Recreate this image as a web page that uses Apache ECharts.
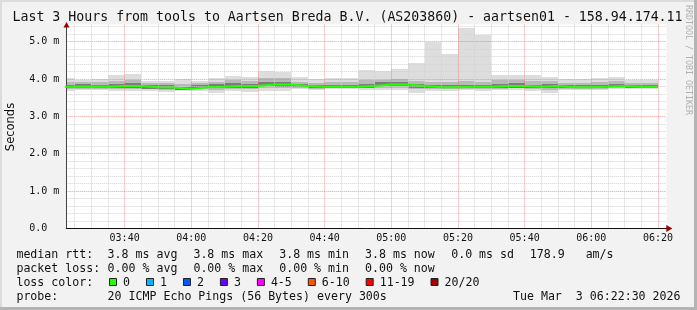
<!DOCTYPE html>
<html><head><meta charset="utf-8">
<script src="https://cdn.jsdelivr.net/npm/echarts@6/dist/echarts.min.js"></script>
<style>html,body{margin:0;padding:0;background:#f2f2f2}#c{width:697px;height:310px}</style>
</head><body><div id="c"></div>
<script>
// ---- data (RTT in ms, 5-minute slots, start time of each slot) ----
const slotStart = ['03:20','03:25','03:30','03:35','03:40','03:45','03:50','03:55','04:00','04:05','04:10','04:15',
  '04:20','04:25','04:30','04:35','04:40','04:45','04:50','04:55','05:00','05:05','05:10','05:15',
  '05:20','05:25','05:30','05:35','05:40','05:45','05:50','05:55','06:00','06:05','06:10','06:15'];
const maxRtt = [4.03,3.96,4.01,4.10,4.13,3.95,3.95,4.00,3.94,4.02,4.08,4.05,
  4.21,4.19,4.05,3.99,4.04,4.04,4.24,4.22,4.27,4.44,5.00,4.68,
  5.37,5.18,4.12,4.12,4.10,4.05,4.01,4.00,4.04,4.05,3.97,3.97];
const hiRtt = [3.92,3.92,3.93,3.95,3.96,3.90,3.90,3.86,3.90,3.93,3.96,3.95,
  4.02,4.02,3.93,3.90,3.92,3.92,3.96,3.98,3.99,3.95,3.93,3.92,
  3.95,3.93,3.97,3.98,3.95,3.94,3.90,3.90,3.92,3.94,3.90,3.88];
const coreHiRtt = [3.85,3.87,3.85,3.87,3.88,3.84,3.83,3.78,3.84,3.86,3.88,3.87,
  3.93,3.92,3.86,3.84,3.84,3.84,3.87,3.91,3.91,3.87,3.84,3.83,
  3.85,3.85,3.87,3.88,3.85,3.86,3.83,3.83,3.84,3.86,3.84,3.83];
const medRtt = [3.79,3.80,3.79,3.81,3.81,3.78,3.77,3.73,3.78,3.79,3.81,3.81,
  3.85,3.85,3.81,3.79,3.79,3.79,3.81,3.85,3.85,3.81,3.78,3.78,
  3.79,3.79,3.81,3.81,3.79,3.81,3.78,3.78,3.79,3.81,3.79,3.79];
const coreLoRtt = [3.75,3.76,3.76,3.77,3.77,3.74,3.73,3.71,3.75,3.75,3.77,3.77,
  3.80,3.79,3.78,3.76,3.76,3.76,3.77,3.80,3.80,3.76,3.75,3.75,
  3.76,3.75,3.76,3.77,3.75,3.75,3.75,3.75,3.76,3.78,3.77,3.77];
const loRtt = [3.72,3.74,3.73,3.74,3.74,3.72,3.71,3.70,3.73,3.70,3.74,3.73,
  3.76,3.75,3.76,3.74,3.75,3.75,3.75,3.77,3.77,3.72,3.72,3.72,
  3.74,3.72,3.74,3.75,3.72,3.70,3.73,3.73,3.74,3.76,3.76,3.76];
const minRtt = [3.67,3.70,3.70,3.68,3.68,3.67,3.65,3.68,3.68,3.62,3.67,3.65,
  3.68,3.67,3.72,3.70,3.72,3.72,3.70,3.70,3.70,3.63,3.67,3.67,
  3.70,3.67,3.70,3.70,3.67,3.63,3.70,3.70,3.71,3.72,3.74,3.74];
const slotMinutes = 5;
const timeTicks = ['03:40','04:00','04:20','04:40','05:00','05:20','05:40','06:00','06:20'];
const yTickLabels = ['0.0  ','1.0 m','2.0 m','3.0 m','4.0 m','5.0 m'];
const viewStart = '03:22:30', viewEnd = '06:22:30';
const lossLabels = ['0','1','2','3','4-5','6-10','11-19','20/20'];
const lossColors = ['#26ff00','#00b8ff','#0059ff','#6a00ff','#ff00ff','#ff5500','#ff0000','#a10000'];
const statsRtt = ['3.8 ms avg','3.8 ms max','3.8 ms min','3.8 ms now','0.0 ms sd','178.9   am/s'];
const statsLoss = ['0.00 % avg','0.00 % max','0.00 % min','0.00 % now'];
const titleText = 'Last 3 Hours from tools to Aartsen Breda B.V. (AS203860) - aartsen01 - 158.94.174.11';
const probeText = '20 ICMP Echo Pings (56 Bytes) every 300s';
const stampText = 'Tue Mar  3 06:22:30 2026';

// ---- helpers ----
function toMin(s){const p=s.split(':').map(Number);return p[0]*60+p[1]+(p[2]||0)/60;}
function toHHMM(m){const h=Math.floor(m/60),mm=Math.round(m%60);return String(h).padStart(2,'0')+':'+String(mm).padStart(2,'0');}
const xMin = toMin(viewStart), xMax = toMin(viewEnd);
const rows = slotStart.map((s,i)=>{const t=toMin(s);return [t,t+slotMinutes,minRtt[i],maxRtt[i],loRtt[i],hiRtt[i],coreLoRtt[i],coreHiRtt[i]];});
const medData = slotStart.map((s,i)=>[toMin(s),medRtt[i]]);
medData.push([toMin(slotStart[slotStart.length-1])+slotMinutes, medRtt[medRtt.length-1]]);

const MONO = '"DejaVu Sans Mono", monospace';
const chart = echarts.init(document.getElementById('c'), null, {renderer:'canvas'});
const gray = '#d2d2d2', red = 'rgba(240,120,120,0.75)', T = 'rgba(0,0,0,0)';

const option = {
  backgroundColor:'#f2f2f2',
  animation:false,
  grid:{left:66.3, width:600, top:24.5, height:203.8, show:true, backgroundColor:'#ffffff', borderWidth:0},
  xAxis:{type:'value', min:xMin, max:xMax, interval:2.5, z:3,
    axisLine:{show:true, lineStyle:{color:'#111', width:1}},
    axisTick:{show:false},
    axisLabel:{margin:5, fontFamily:MONO, fontSize:10, color:'#111',
      formatter:v=>{const l=toHHMM(v);return (Math.abs(v%20)<1e-6 && timeTicks.includes(l))?l:'';}},
    splitLine:{show:true, lineStyle:{color:[T,gray,T,gray,T,gray,T,red], width:1, type:[1,1]}}
  },
  yAxis:{type:'value', min:0, max:5.46, interval:0.2, z:3,
    axisLine:{show:true, lineStyle:{color:'#444', width:1}},
    axisTick:{show:false},
    axisLabel:{margin:7, fontFamily:MONO, fontSize:10, color:'#111',
      formatter:v=>{const r=Math.round(v);return (Math.abs(v-r)<1e-6 && yTickLabels[r]!==undefined)?yTickLabels[r]:'';}},
    splitLine:{show:true, showMaxLine:false, lineStyle:{color:[red,gray,gray,gray,gray], width:1, type:[1,1]}}
  },
  series:[
    {type:'custom', z:2, data:rows, encode:{x:[0,1], y:[2,3,4,5,6,7]},
      renderItem:(params, api)=>{
        const cs = params.coordSys;
        const t0 = api.value(0), t1 = api.value(1);
        const bands = [[2,3,'#dddddd'],[4,5,'#b9b9b9'],[6,7,'#7c7c7c']];
        const children = [];
        bands.forEach(b=>{
          const p0 = api.coord([t0, api.value(b[1])]);
          const p1 = api.coord([t1, api.value(b[0])]);
          const x0=Math.round(p0[0]), x1=Math.round(p1[0]), y0=Math.round(p0[1]), y1=Math.round(p1[1]);
          const shape = echarts.graphic.clipRectByRect({x:x0,y:y0,width:x1-x0,height:Math.max(1,y1-y0)},
            {x:cs.x,y:cs.y,width:cs.width,height:cs.height});
          if (shape) children.push({type:'rect', shape, style:{fill:b[2]}});
        });
        return {type:'group', children};
      }},
    {type:'line', z:5, data:medData, step:'end', symbol:'none', clip:true,
      lineStyle:{color:'#26ff00', width:2}}
  ]
};
chart.setOption(option);

// ---- decorations: frame, texts, legend ----
const g = [];
g.push({type:'rect', shape:{x:0,y:0,width:697,height:2}, style:{fill:'#dcdcdc'}, silent:true});
g.push({type:'rect', shape:{x:0,y:0,width:2,height:310}, style:{fill:'#dcdcdc'}, silent:true});
g.push({type:'rect', shape:{x:694,y:0,width:3,height:310}, style:{fill:'#b4b4b4'}, silent:true});
g.push({type:'rect', shape:{x:0,y:307,width:697,height:3}, style:{fill:'#b4b4b4'}, silent:true});
function txt(x,y,text,opt){return Object.assign({type:'text', x, y, silent:true,
  style:Object.assign({text, fill:'#111', font:'11.6px '+MONO, textAlign:'left', textVerticalAlign:'middle'}, opt||{})});}
g.push(txt(347.5,18,titleText,{font:'13.25px '+MONO, textAlign:'center'}));
g.push(Object.assign(txt(688.5,60,'RRDTOOL / TOBI OETIKER',{font:'8.3px '+MONO, fill:'#b0b0b0', textAlign:'center'}),{rotation:-Math.PI/2}));
g.push(Object.assign(txt(11,127,'Seconds',{font:'11.5px "DejaVu Sans", sans-serif', textAlign:'center'}),{rotation:Math.PI/2}));
const colX = [107.6,193.4,279.2,365,451.2,529.8];
const rowY = [254.5,268.8,283,297.3];
g.push(txt(16.4,rowY[0],'median rtt:'));
statsRtt.forEach((s,i)=>g.push(txt(colX[i],rowY[0],s)));
g.push(txt(16.4,rowY[1],'packet loss:'));
statsLoss.forEach((s,i)=>g.push(txt(colX[i],rowY[1],s)));
g.push(txt(16.4,rowY[2],'loss color:'));
let lx = 109;
lossLabels.forEach((l,i)=>{
  g.push({type:'rect', shape:{x:lx+0.5,y:rowY[2]-4.5,width:7,height:7}, style:{fill:lossColors[i], stroke:'#222', lineWidth:1}, silent:true});
  g.push(txt(lx+14,rowY[2],l));
  lx += 30 + 6.97*l.length;
});
g.push(txt(16.4,rowY[3],'probe:'));
g.push(txt(colX[0],rowY[3],probeText));
g.push(txt(680.5,rowY[3],stampText,{textAlign:'right'}));

// axis arrows, placed through the axis scales
const o = chart.convertToPixel({gridIndex:0},[xMin,0]);
const xe = chart.convertToPixel({gridIndex:0},[xMax,0]);
const ye = chart.convertToPixel({gridIndex:0},[xMin,5.46]);
const ax = Math.round(o[0])+0.5, ay = Math.round(o[1])+0.5;
g.push({type:'line', shape:{x1:xe[0],y1:ay,x2:xe[0]+5,y2:ay}, style:{stroke:'#111',lineWidth:1}, z:10, silent:true});
g.push({type:'polygon', shape:{points:[[xe[0]+6,ay],[xe[0],ay-3.5],[xe[0],ay+3.5]]}, style:{fill:'#990000'}, z:10, silent:true});
g.push({type:'line', shape:{x1:ax,y1:ye[1]+2,x2:ax,y2:ye[1]},style:{stroke:'#444',lineWidth:1}, z:10, silent:true});
g.push({type:'polygon', shape:{points:[[ax,ye[1]-2.5],[ax-3,ye[1]+3],[ax+3,ye[1]+3]]}, style:{fill:'#990000'}, z:10, silent:true});
chart.setOption({graphic:{elements:g}});
</script></body></html>
